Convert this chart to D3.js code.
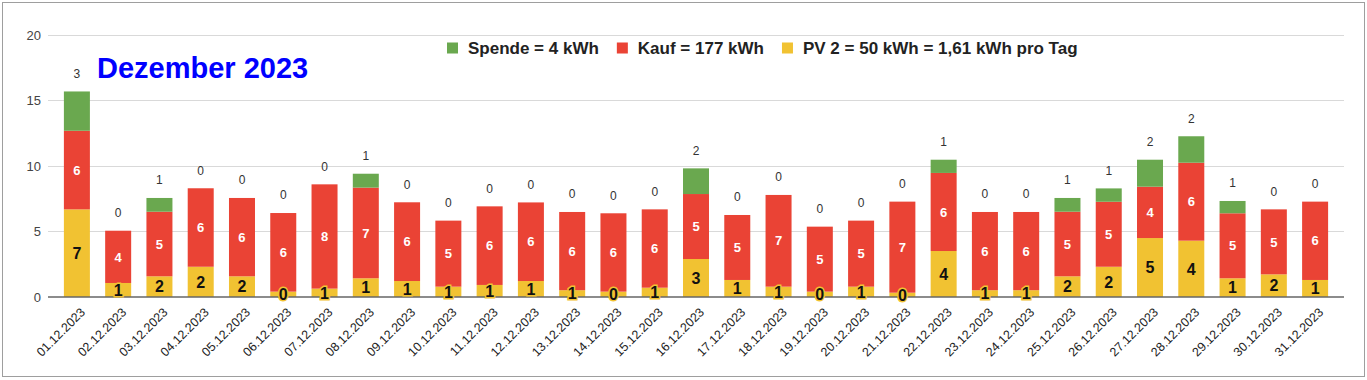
<!DOCTYPE html>
<html><head><meta charset="utf-8">
<script src="https://cdn.jsdelivr.net/npm/d3@7"></script>
<style>
html,body{margin:0;padding:0;background:#fff;}
svg{display:block;font-family:"Liberation Sans",Arial,sans-serif;}
</style></head>
<body>
<svg id="c" width="1367" height="380"></svg>
<script>
const dates = ["01.12.2023","02.12.2023","03.12.2023","04.12.2023","05.12.2023","06.12.2023","07.12.2023","08.12.2023","09.12.2023","10.12.2023","11.12.2023","12.12.2023","13.12.2023","14.12.2023","15.12.2023","16.12.2023","17.12.2023","18.12.2023","19.12.2023","20.12.2023","21.12.2023","22.12.2023","23.12.2023","24.12.2023","25.12.2023","26.12.2023","27.12.2023","28.12.2023","29.12.2023","30.12.2023","31.12.2023"];
const pv2 =    [6.69,1.07,1.58,2.31,1.58,0.41,0.64,1.43,1.22,0.79,0.92,1.22,0.52,0.41,0.71,2.90,1.30,0.79,0.41,0.79,0.33,3.51,0.52,0.52,1.58,2.31,4.50,4.30,1.43,1.73,1.30];
const kauf =   [6.00,3.99,4.93,5.99,5.98,6.00,7.96,6.92,6.01,5.04,6.00,6.00,5.97,5.98,5.98,4.96,4.96,7.00,4.96,5.04,6.95,5.96,5.97,5.97,4.93,4.96,3.92,5.95,4.96,4.96,5.98];
const spende = [3.00,0,1.05,0,0,0,0,1.06,0,0,0,0,0,0,0,1.96,0,0,0,0,0,1.01,0,0,1.05,1.02,2.06,2.02,0.94,0,0];
const yTicks = [0,5,10,15,20];
const seriesNames = ["Spende = 4 kWh","Kauf = 177 kWh","PV 2 = 50 kWh = 1,61 kWh pro Tag"];
const colors = {pv:"#f1c232", kauf:"#ea4335", spende:"#6aa84f"};
const title = "Dezember 2023";

const svg = d3.select("#c");
svg.append("rect").attr("x",2.5).attr("y",2.5).attr("width",1362).attr("height",374)
  .attr("fill","#fff").attr("stroke","#9e9e9e");

const x = d3.scaleBand().domain(dates).range([48,1344]).paddingInner(0.37).paddingOuter(0.385);
const y = d3.scaleLinear().domain([0,20]).range([297,35]);

// grid
svg.append("g").selectAll("line").data(yTicks.filter(d=>d>0)).join("line")
  .attr("x1",48).attr("x2",1344).attr("y1",d=>y(d)).attr("y2",d=>y(d))
  .attr("stroke","#d9d9d9").attr("stroke-width",1).attr("shape-rendering","crispEdges");
svg.append("g").selectAll("text").data(yTicks).join("text")
  .attr("x",41).attr("y",d=>y(d)).attr("dy","0.35em").attr("text-anchor","end")
  .attr("font-size",13).attr("fill","#444").text(d=>d);

const rows = dates.map((d,i)=>({d, pv:pv2[i], kauf:kauf[i], sp:spende[i]}));
const stack = d3.stack().keys(["pv","kauf","sp"])(rows);
const keyColor = {pv:colors.pv, kauf:colors.kauf, sp:colors.spende};
stack.forEach(layer=>{
  svg.append("g").selectAll("rect").data(layer).join("rect")
    .attr("x",d=>x(d.data.d)).attr("width",x.bandwidth())
    .attr("y",d=>y(d[1])).attr("height",d=>Math.max(0,y(d[0])-y(d[1])))
    .attr("fill",keyColor[layer.key]);
});

// baseline
svg.append("line").attr("x1",48).attr("x2",1344).attr("y1",y(0)).attr("y2",y(0))
  .attr("stroke","#666").attr("stroke-width",1.5);

// labels inside yellow
const pvLayer = stack[0], kaufLayer = stack[1], spLayer = stack[2];
svg.append("g").selectAll("text").data(pvLayer).join("text")
  .attr("x",d=>x(d.data.d)+x.bandwidth()/2).attr("y",d=>(y(d[0])+y(d[1]))/2)
  .attr("dy","0.36em").attr("text-anchor","middle").attr("font-size",16).attr("font-weight","bold")
  .attr("fill","#111").attr("stroke",colors.pv).attr("stroke-width",3).attr("paint-order","stroke")
  .text(d=>Math.round(d.data.pv));
svg.append("g").selectAll("text").data(kaufLayer).join("text")
  .attr("x",d=>x(d.data.d)+x.bandwidth()/2).attr("y",d=>(y(d[0])+y(d[1]))/2)
  .attr("dy","0.36em").attr("text-anchor","middle").attr("font-size",13).attr("font-weight","bold")
  .attr("fill","#fff").text(d=>Math.round(d.data.kauf));
svg.append("g").selectAll("text").data(spLayer).join("text")
  .attr("x",d=>x(d.data.d)+x.bandwidth()/2).attr("y",d=>y(d[1])-18)
  .attr("dy","0.36em").attr("text-anchor","middle").attr("font-size",12)
  .attr("fill","#333").text(d=>Math.round(d.data.sp));

// x labels
svg.append("g").selectAll("text").data(dates).join("text")
  .attr("transform",d=>`translate(${x(d)+x.bandwidth()/2+9},${313}) rotate(-45)`)
  .attr("text-anchor","end").attr("font-size",12.5).attr("fill","#222").text(d=>d);

// title
svg.append("text").attr("x",97).attr("y",78).attr("font-size",29).attr("font-weight","bold")
  .attr("fill","#0000ff").text(title);

// legend
const legColors = [colors.spende, colors.kauf, colors.pv];
let lx = 447;
const lg = svg.append("g");
seriesNames.forEach((n,i)=>{
  lg.append("rect").attr("x",lx).attr("y",42.5).attr("width",11).attr("height",11).attr("fill",legColors[i]);
  const t = lg.append("text").attr("x",lx+21).attr("y",54).attr("font-size",17).attr("font-weight","bold")
    .attr("fill","#222").text(n);
  lx = lx + 21 + t.node().getComputedTextLength() + 18;
});
</script>
</body></html>
